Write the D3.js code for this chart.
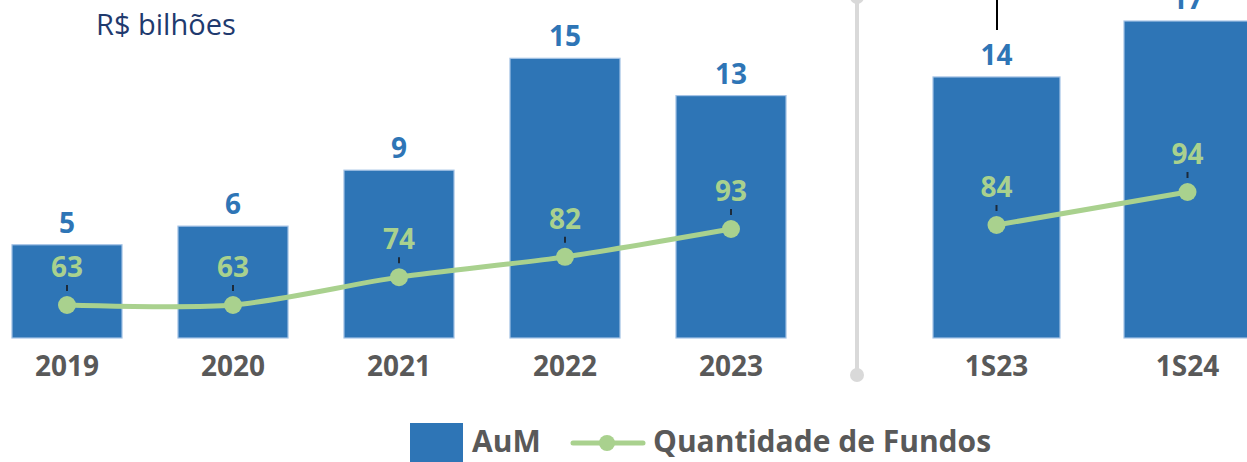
<!DOCTYPE html>
<html>
<head>
<meta charset="utf-8">
<script src="https://cdn.jsdelivr.net/npm/d3@7"></script>
<style>
  html, body { margin: 0; padding: 0; background: #fff; }
  svg { display: block; }
  text { font-family: "Open Sans", "Noto Sans", sans-serif; }
</style>
</head>
<body>
<svg id="chart" width="1247" height="462"></svg>
<script>
// Annual figures (left panel)
const yearCats = ["2019", "2020", "2021", "2022", "2023"];
const yearAum = [5, 6, 9, 15, 13];
const yearFunds = [63, 63, 74, 82, 93];

// Half-year figures (right panel)
const halfCats = ["1S23", "1S24"];
const halfAum = [14, 17];
const halfFunds = [84, 94];

const unitLabel = "R$ bilhões";
const legendLabels = ["AuM", "Quantidade de Fundos"];

const BLUE = "#2e75b6";
const GREEN = "#a9d18e";
const GRAY = "#595959";

const svg = d3.select("#chart");

// Shared AuM scale for both panels
const yBar = d3.scaleLinear().domain([0, 17]).range([338, 21]);

const fmt = d3.format(".0f");

function drawPanel(cats, aum, funds, xRange, padIn, padOut, lineDomain, lineRange) {
  const x = d3.scaleBand().domain(cats).range(xRange).paddingInner(padIn).paddingOuter(padOut);
  const yLine = d3.scaleLinear().domain(lineDomain).range(lineRange);
  const g = svg.append("g");
  const rows = cats.map((c, i) => ({ cat: c, aum: aum[i], funds: funds[i] }));

  // bars
  g.selectAll("rect.bar").data(rows).join("rect")
    .attr("class", "bar")
    .attr("x", d => x(d.cat))
    .attr("y", d => yBar(d.aum))
    .attr("width", x.bandwidth())
    .attr("height", d => yBar(0) - yBar(d.aum))
    .attr("fill", BLUE)
    .attr("stroke", "#a6c4e6")
    .attr("stroke-width", 1.2);

  // bar value labels
  g.selectAll("text.aum").data(rows).join("text")
    .attr("class", "aum")
    .attr("x", d => x(d.cat) + x.bandwidth() / 2)
    .attr("y", d => yBar(d.aum) - 22)
    .attr("dy", "0.36em")
    .attr("text-anchor", "middle")
    .attr("font-size", 28)
    .attr("font-weight", 700)
    .attr("fill", BLUE)
    .text(d => fmt(d.aum));

  // category axis labels
  const axis = d3.axisBottom(x).tickSize(0).tickPadding(0);
  const ax = g.append("g").attr("transform", "translate(0,366)").call(axis);
  ax.select(".domain").remove();
  ax.selectAll("text")
    .attr("dy", "0.36em")
    .attr("y", 0)
    .attr("font-size", 28)
    .attr("font-weight", 700)
    .attr("fill", GRAY)
    .attr("font-family", "\"Open Sans\", sans-serif");

  const cx = d => x(d.cat) + x.bandwidth() / 2;

  // fund count line
  const line = d3.line().x(cx).y(d => yLine(d.funds)).curve(d3.curveCardinal.tension(0.2));
  g.append("path").datum(rows)
    .attr("d", line)
    .attr("fill", "none")
    .attr("stroke", GREEN)
    .attr("stroke-width", 5)
    .attr("stroke-linecap", "round");

  g.selectAll("circle.pt").data(rows).join("circle")
    .attr("class", "pt")
    .attr("cx", cx)
    .attr("cy", d => yLine(d.funds))
    .attr("r", 9)
    .attr("fill", GREEN);

  // leader ticks
  g.selectAll("line.lead").data(rows).join("line")
    .attr("class", "lead")
    .attr("x1", cx).attr("x2", cx)
    .attr("y1", d => yLine(d.funds) - 20)
    .attr("y2", d => yLine(d.funds) - 14)
    .attr("stroke", "#1c2a3a")
    .attr("stroke-width", 2);

  g.selectAll("text.funds").data(rows).join("text")
    .attr("class", "funds")
    .attr("x", cx)
    .attr("y", d => yLine(d.funds) - 38)
    .attr("dy", "0.36em")
    .attr("text-anchor", "middle")
    .attr("font-size", 28)
    .attr("font-weight", 700)
    .attr("fill", GREEN)
    .text(d => fmt(d.funds));
}

drawPanel(yearCats, yearAum, yearFunds, [-16, 814], 0.337, 0.1685, [63, 93], [305, 229]);
drawPanel(halfCats, halfAum, halfFunds, [901, 1283], 0.335, 0.1675, [84, 94], [225, 192]);

// divider between panels
svg.append("line")
  .attr("x1", 857).attr("x2", 857)
  .attr("y1", -2).attr("y2", 375)
  .attr("stroke", "#d9d9d9").attr("stroke-width", 4);
svg.append("circle").attr("cx", 857).attr("cy", 375).attr("r", 7).attr("fill", "#d9d9d9");
svg.append("circle").attr("cx", 857).attr("cy", -3).attr("r", 7).attr("fill", "#d9d9d9");

// pointer line above the 1S23 bar
svg.append("line")
  .attr("x1", 997).attr("x2", 997)
  .attr("y1", 0).attr("y2", 30)
  .attr("stroke", "#000").attr("stroke-width", 2);

// unit label
svg.append("text")
  .attr("x", 96).attr("y", 25).attr("dy", "0.36em")
  .attr("font-size", 29)
  .attr("fill", "#1f3a6e")
  .text(unitLabel);

// legend
const lg = svg.append("g");
lg.append("rect").attr("x", 410).attr("y", 423).attr("width", 53).attr("height", 45).attr("fill", BLUE);
lg.append("text").attr("x", 472).attr("y", 441).attr("dy", "0.36em")
  .attr("font-size", 30).attr("font-weight", 700).attr("fill", GRAY).text(legendLabels[0]);
lg.append("line").attr("x1", 573).attr("x2", 643).attr("y1", 443).attr("y2", 443)
  .attr("stroke", GREEN).attr("stroke-width", 5).attr("stroke-linecap", "round");
lg.append("circle").attr("cx", 607).attr("cy", 443).attr("r", 8).attr("fill", GREEN);
lg.append("text").attr("x", 653).attr("y", 441).attr("dy", "0.36em")
  .attr("font-size", 30).attr("font-weight", 700).attr("fill", GRAY).text(legendLabels[1]);
</script>
</body>
</html>
